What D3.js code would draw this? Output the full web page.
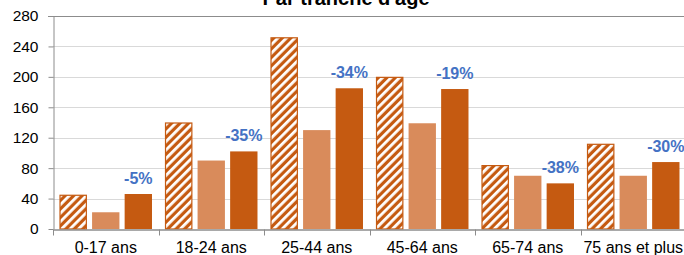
<!DOCTYPE html>
<html>
<head>
<meta charset="utf-8">
<script src="https://cdn.jsdelivr.net/npm/d3@7"></script>
<style>
  body { margin: 0; background: #fff; }
  svg { display: block; font-family: "Liberation Sans", Arial, sans-serif; }
</style>
</head>
<body>
<div id="chart"></div>
<script>
var categories = ["0-17 ans", "18-24 ans", "25-44 ans", "45-64 ans", "65-74 ans", "75 ans et plus"];
var seriesRef = [45, 140, 252, 200, 84, 112];     // hatched bars
var seriesMid = [22, 90, 130, 139, 70, 70];       // light bars
var seriesNow = [46, 102, 185, 184, 60, 88];      // dark bars
var changeLabels = ["-5%", "-35%", "-34%", "-19%", "-38%", "-30%"];
var yTicks = [0, 40, 80, 120, 160, 200, 240, 280];
var title = "Par tranche d'âge";

var width = 684, height = 255,
    margin = { top: 16, right: -2, bottom: 26, left: 53 },
    orange = "#c55a11",
    light = "#d98b5b";

var svg = d3.select("#chart").append("svg")
    .attr("width", width)
    .attr("height", height);

// hatch pattern for the first series
var defs = svg.append("defs");
var pat = defs.append("pattern")
    .attr("id", "hatch")
    .attr("patternUnits", "userSpaceOnUse")
    .attr("width", 6)
    .attr("height", 6)
    .attr("patternTransform", "rotate(45)");
pat.append("rect").attr("width", 6).attr("height", 6).attr("fill", orange);
pat.append("rect").attr("width", 2.8).attr("height", 6).attr("fill", "#fff");

var x = d3.scaleBand()
    .domain(categories)
    .range([margin.left, width - margin.right])
    .paddingInner(0)
    .paddingOuter(0);

var inner = d3.scaleBand()
    .domain([0, 1, 2])
    .range([0, x.bandwidth()])
    .paddingInner(0.16)
    .paddingOuter(0.2);

var y = d3.scaleLinear()
    .domain([0, 280])
    .range([height - margin.bottom, margin.top]);

// gridlines
svg.append("g")
    .selectAll("line")
    .data(yTicks.filter(function (t) { return t > 0 && t < 280; }))
    .enter().append("line")
    .attr("x1", margin.left)
    .attr("x2", width)
    .attr("y1", function (d) { return Math.round(y(d)) + 0.5; })
    .attr("y2", function (d) { return Math.round(y(d)) + 0.5; })
    .attr("stroke", "#d9d9d9")
    .attr("stroke-width", 1);

// top border
svg.append("line")
    .attr("x1", margin.left - 5).attr("x2", width)
    .attr("y1", Math.round(y(280)) + 0.5).attr("y2", Math.round(y(280)) + 0.5)
    .attr("stroke", "#8c8c8c");

// y axis
var yAxis = svg.append("g")
    .attr("transform", "translate(" + (margin.left + 0.5) + ",0)")
    .call(d3.axisLeft(y).tickValues(yTicks).tickSize(5).tickPadding(10).tickSizeOuter(0));
yAxis.select(".domain").attr("stroke", "#8c8c8c");
yAxis.selectAll(".tick line").attr("stroke", "#8c8c8c");
yAxis.selectAll("text")
    .attr("font-size", 15.5)
    .attr("font-family", "Liberation Sans, Arial, sans-serif")
    .attr("fill", "#000");

// bars
var series = [seriesRef, seriesMid, seriesNow];
var fills = ["url(#hatch)", light, orange];
categories.forEach(function (c, i) {
    series.forEach(function (s, k) {
        var bx = x(c) + inner(k),
            top = y(s[i]);
        svg.append("rect")
            .attr("x", bx + (k === 0 ? 0.5 : 0))
            .attr("y", top + (k === 0 ? 0.5 : 0))
            .attr("width", inner.bandwidth() - (k === 0 ? 1 : 0))
            .attr("height", y(0) - top - (k === 0 ? 0.5 : 0))
            .attr("fill", fills[k])
            .attr("stroke", k === 0 ? orange : "none")
            .attr("stroke-width", 1.2);
    });
    // change label above the dark bar
    svg.append("text")
        .attr("x", x(c) + inner(2) + inner.bandwidth() / 2)
        .attr("y", y(seriesNow[i]) - 10)
        .attr("text-anchor", "middle")
        .attr("font-size", 16)
        .attr("font-weight", "bold")
        .attr("fill", "#4472c4")
        .text(changeLabels[i]);
});

// x axis
var xAxis = svg.append("g")
    .attr("transform", "translate(0," + (Math.round(y(0)) + 0.5) + ")")
    .call(d3.axisBottom(x).tickSize(0).tickPadding(12).tickSizeOuter(0));
xAxis.select(".domain").attr("stroke", "#8c8c8c").attr("stroke-width", 1.5);
xAxis.selectAll("text")
    .attr("font-size", 16)
    .attr("font-family", "Liberation Sans, Arial, sans-serif")
    .attr("fill", "#000");
// category separators
xAxis.selectAll(".sep")
    .data(categories)
    .enter().append("line")
    .attr("x1", function (d) { return Math.round(x(d)) + 0.5; })
    .attr("x2", function (d) { return Math.round(x(d)) + 0.5; })
    .attr("y1", 0).attr("y2", 6)
    .attr("stroke", "#8c8c8c");

// title (cut at top in the source)
svg.append("text")
    .attr("x", 346)
    .attr("y", 5)
    .attr("text-anchor", "middle")
    .attr("font-size", 20)
    .attr("font-weight", "bold")
    .text(title);
</script>
</body>
</html>
